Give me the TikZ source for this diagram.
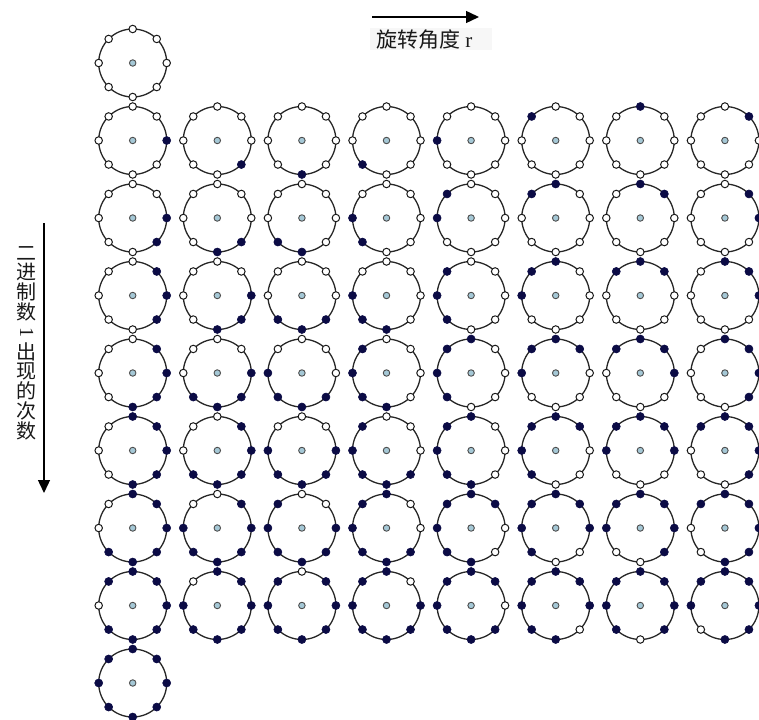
\documentclass[tikz,border=0pt]{standalone}
\usepackage{fontspec}
\setmainfont{Liberation Serif}
\newfontfamily\cjk{Noto Sans CJK SC}
\usetikzlibrary{arrows.meta}
\definecolor{navy}{HTML}{0B0B45}
\definecolor{centerblue}{HTML}{A5C8D6}
\begin{document}
\begin{tikzpicture}[x=1pt,y=-1pt,
  ring/.style={circle, draw=black!85, line width=1.3pt, minimum size=68pt, inner sep=0pt, outer sep=0pt},
  opendot/.style={circle, draw=black!90, fill=white, line width=1pt, minimum size=7.5pt, inner sep=0pt},
  fulldot/.style={circle, draw=navy, fill=navy, line width=0.6pt, minimum size=8pt, inner sep=0pt},
  centerdot/.style={circle, draw=black!70, fill=centerblue, line width=0.9pt, minimum size=6.5pt, inner sep=0pt},
  axisarrow/.style={line width=1.4pt, -{Triangle[length=13pt,width=12pt]}},
  labeltext/.style={inner sep=0pt, text=black!90},
]
\useasboundingbox (0,0) rectangle (759,719);

% axes
\coordinate (hs) at (372,17);
\coordinate (he) at (479,17);
\draw[axisarrow] (hs) -- (he);
\fill[black!3] (370,28) rectangle (492,50);
\node[labeltext, font=\cjk\fontsize{21}{21}\selectfont] (toplabel) at (424.5,40) {旋转角度 {\rmfamily r}};

\coordinate (vs) at (44,223);
\coordinate (ve) at (44,493);
\draw[axisarrow] (vs) -- (ve);
\node[labeltext, font=\cjk\fontsize{20}{19.8}\selectfont, align=center] (sidelabel) at (26.7,343)
  {二\\进\\制\\数\\\rotatebox[origin=c]{-90}{\rmfamily 1}\\出\\现\\的\\次\\数};

% LBP uniform patterns
\foreach \k in {0,...,8} {
  \pgfmathtruncatemacro{\nc}{(\k==0 || \k==8) ? 0 : 7}
  \pgfmathtruncatemacro{\s}{int((\k-1)/2)}
  \foreach \c in {0,...,\nc} {
    \pgfmathsetmacro{\cx}{132.7+84.6*\c}
    \pgfmathsetmacro{\cy}{63+77.5*\k}
    \node[ring] (r\k c\c) at (\cx,\cy) {};
    \node[centerdot] (m\k c\c) at (r\k c\c.center) {};
    \foreach \p in {0,...,7} {
      \pgfmathtruncatemacro{\m}{mod(\p-\c+\s+16,8)}
      \pgfmathtruncatemacro{\ang}{-45*\p}
      \ifnum\m<\k
        \node[fulldot] (d\k c\c p\p) at (r\k c\c.\ang) {};
      \else
        \node[opendot] (d\k c\c p\p) at (r\k c\c.\ang) {};
      \fi
    }
  }
}
\end{tikzpicture}
\end{document}
